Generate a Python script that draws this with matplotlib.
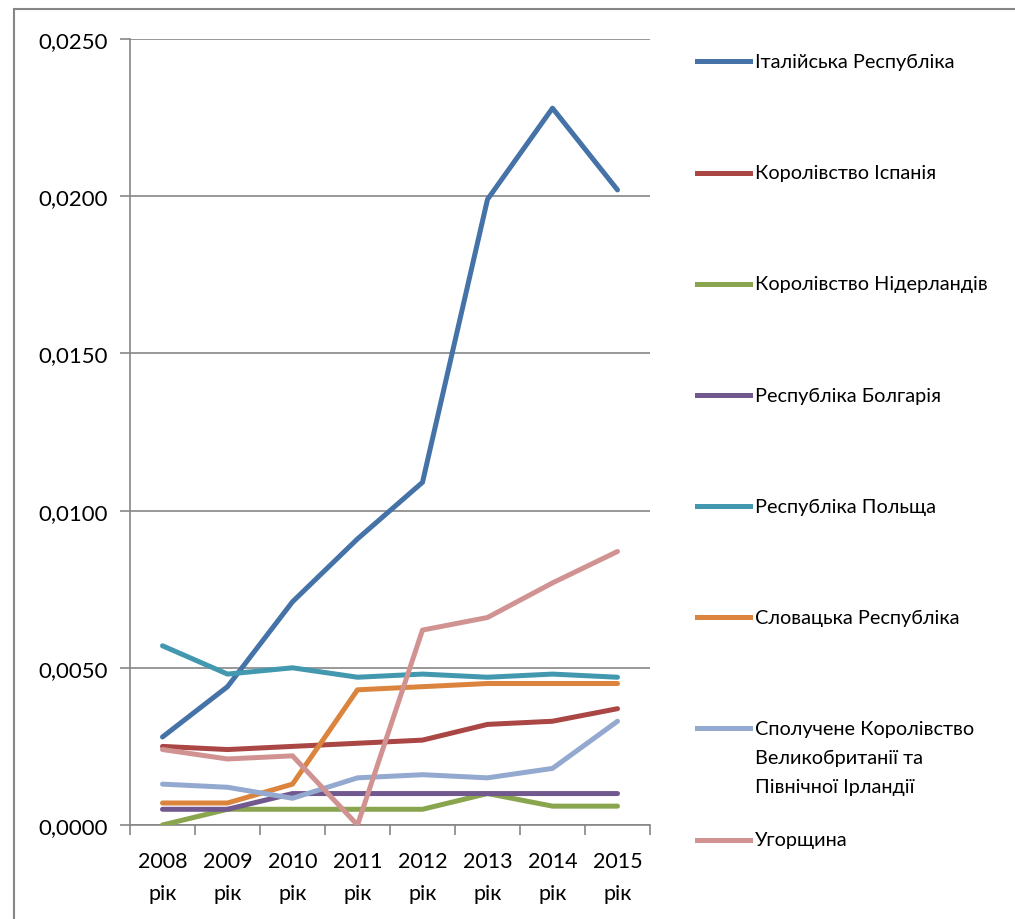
import matplotlib
matplotlib.use("Agg")
import matplotlib.pyplot as plt
from matplotlib.lines import Line2D
from matplotlib.patches import Rectangle
from matplotlib.ticker import FuncFormatter, FixedLocator

plt.rcParams['font.family'] = ['Lato', 'DejaVu Sans']

years = ["2008\nрік", "2009\nрік", "2010\nрік", "2011\nрік", "2012\nрік", "2013\nрік", "2014\nрік", "2015\nрік"]

labels = ["Італійська Республіка", "Королівство Іспанія", "Королівство Нідерландів",
          "Республіка Болгарія", "Республіка Польща", "Словацька Республіка",
          "Сполучене Королівство\nВеликобританії та\nПівнічної Ірландії", "Угорщина"]

italy = [0.0028, 0.0044, 0.0071, 0.0091, 0.0109, 0.0199, 0.0228, 0.0202]
spain = [0.0025, 0.0024, 0.0025, 0.0026, 0.0027, 0.0032, 0.0033, 0.0037]
netherlands = [0.0000, 0.0005, 0.0005, 0.0005, 0.0005, 0.0010, 0.0006, 0.0006]
bulgaria = [0.0005, 0.0005, 0.0010, 0.0010, 0.0010, 0.0010, 0.0010, 0.0010]
poland = [0.0057, 0.0048, 0.0050, 0.0047, 0.0048, 0.0047, 0.0048, 0.0047]
slovakia = [0.0007, 0.0007, 0.0013, 0.0043, 0.0044, 0.0045, 0.0045, 0.0045]
uk = [0.0013, 0.0012, 0.00085, 0.0015, 0.0016, 0.0015, 0.0018, 0.0033]
hungary = [0.0024, 0.0021, 0.0022, 0.0000, 0.0062, 0.0066, 0.0077, 0.0087]

series = [italy, spain, netherlands, bulgaria, poland, slovakia, uk, hungary]
colors = ["#4572A7", "#AA4643", "#89A54E", "#71588F", "#4198AF", "#DB843D", "#93A9CF", "#D19392"]

W, H = 1015, 920
fig = plt.figure(figsize=(W / 100, H / 100), dpi=100)
ax = fig.add_axes([130 / W, 1 - 826 / H, 520 / W, 786 / H])

x = list(range(len(years)))
for s, c in zip(series, colors):
    ax.plot(x, s, color=c, lw=3.6, solid_capstyle='round', solid_joinstyle='round', zorder=3)

grid_c = "#868686"
ax.set_xlim(-0.5, 7.5)
ax.set_ylim(0, 0.025)
ax.set_yticks([0, 0.005, 0.010, 0.015, 0.020, 0.025])
ax.yaxis.set_major_formatter(FuncFormatter(lambda v, p: f"{v:.4f}".replace('.', ',')))
ax.grid(axis='y', color=grid_c, lw=1.2, zorder=0)
ax.set_xticks(x)
ax.set_xticklabels(years, fontsize=15.5, linespacing=1.75)
ax.xaxis.set_minor_locator(FixedLocator([i - 0.5 for i in range(9)]))
ax.tick_params(axis='x', which='major', length=0, pad=19)
ax.tick_params(axis='x', which='minor', length=7, color=grid_c, width=1.2)
ax.tick_params(axis='y', length=7, color=grid_c, width=1.2, labelsize=16, pad=9)
for sp in ['top', 'right']:
    ax.spines[sp].set_visible(False)
for sp in ['left', 'bottom']:
    ax.spines[sp].set_color(grid_c)
    ax.spines[sp].set_linewidth(1.2)

# chart border
fig.add_artist(Rectangle((14 / W, -0.05), 1.1, 1 - 10 / H + 0.05, transform=fig.transFigure,
                         fill=False, edgecolor=grid_c, lw=1.5))

# legend
ys = [62, 174, 285, 396, 507, 618, 729, 841]
for lab, c, yy in zip(labels, colors, ys):
    fy = 1 - yy / H
    fig.add_artist(Line2D([697 / W, 750 / W], [fy, fy], color=c, lw=3.6, transform=fig.transFigure))
    if '\n' in lab:
        fig.text(755 / W, 1 - (yy - 8) / H, lab, fontsize=14.3, va='top',
                 linespacing=1.85, transform=fig.transFigure)
    else:
        fig.text(755 / W, fy, lab, fontsize=14.3, va='center', transform=fig.transFigure)

fig.savefig("out.png", dpi=100)
